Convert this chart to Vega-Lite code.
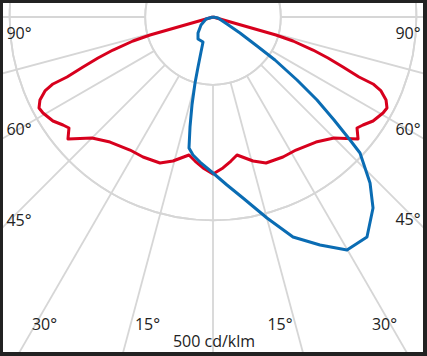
{
  "$schema": "https://vega.github.io/schema/vega-lite/v6.json",
  "width": 427,
  "height": 356,
  "autosize": {"type": "fit", "contains": "padding"},
  "padding": {"left": 3, "top": 3, "right": 4, "bottom": 4},
  "background": "#222222",
  "config": {"view": {"fill": "#ffffff", "stroke": null}},
  "datasets": {
    "rings": [{"x": 0, "y": 0, "r": 100}, {"x": 0, "y": 0, "r": 200}, {"x": 0, "y": 0, "r": 300}, {"x": 0, "y": 0, "r": 400}, {"x": 0, "y": 0, "r": 500}, {"x": 0, "y": 0, "r": 600}],
    "spokes": [
      {"x": -100, "y": 0, "x2": -800, "y2": 0},
      {"x": -96.59, "y": -25.88, "x2": -772.7, "y2": -207.1},
      {"x": -86.6, "y": -50, "x2": -692.8, "y2": -400},
      {"x": -70.71, "y": -70.71, "x2": -565.7, "y2": -565.7},
      {"x": -50, "y": -86.6, "x2": -400, "y2": -692.8},
      {"x": -25.88, "y": -96.59, "x2": -207.1, "y2": -772.7},
      {"x": 0, "y": -100, "x2": 0, "y2": -800},
      {"x": 25.88, "y": -96.59, "x2": 207.1, "y2": -772.7},
      {"x": 50, "y": -86.6, "x2": 400, "y2": -692.8},
      {"x": 70.71, "y": -70.71, "x2": 565.7, "y2": -565.7},
      {"x": 86.6, "y": -50, "x2": 692.8, "y2": -400},
      {"x": 96.59, "y": -25.88, "x2": 772.7, "y2": -207.1},
      {"x": 100, "y": 0, "x2": 800, "y2": 0}
    ],
    "red": [
      {"i": 0, "x": 0, "y": 0}, {"i": 1, "x": -92.9, "y": -26.5}, {"i": 2, "x": -118.0, "y": -35.4}, {"i": 3, "x": -147.5, "y": -48.7},
      {"i": 4, "x": -169.6, "y": -60.5}, {"i": 5, "x": -191.7, "y": -73.7}, {"i": 6, "x": -215.3, "y": -88.5}, {"i": 7, "x": -236.0, "y": -98.8},
      {"i": 8, "x": -247.8, "y": -109.1}, {"i": 9, "x": -255.2, "y": -122.4}, {"i": 10, "x": -256.6, "y": -134.2}, {"i": 11, "x": -250.7, "y": -141.6},
      {"i": 12, "x": -236.0, "y": -153.4}, {"i": 13, "x": -221.2, "y": -159.3}, {"i": 14, "x": -212.4, "y": -163.7}, {"i": 15, "x": -213.9, "y": -179.9},
      {"i": 16, "x": -178.5, "y": -178.5}, {"i": 17, "x": -151.9, "y": -184.4}, {"i": 18, "x": -122.4, "y": -196.2}, {"i": 19, "x": -103.2, "y": -206.5},
      {"i": 20, "x": -78.2, "y": -215.3}, {"i": 21, "x": -59.0, "y": -212.4}, {"i": 22, "x": -35.4, "y": -203.5}, {"i": 23, "x": -26.5, "y": -212.4},
      {"i": 24, "x": -14.7, "y": -222.7}, {"i": 25, "x": 0, "y": -231.6},
      {"i": 26, "x": 14.7, "y": -222.7}, {"i": 27, "x": 26.5, "y": -212.4}, {"i": 28, "x": 35.4, "y": -203.5}, {"i": 29, "x": 59.0, "y": -212.4},
      {"i": 30, "x": 78.2, "y": -215.3}, {"i": 31, "x": 103.2, "y": -206.5}, {"i": 32, "x": 122.4, "y": -196.2}, {"i": 33, "x": 151.9, "y": -184.4},
      {"i": 34, "x": 178.5, "y": -178.5}, {"i": 35, "x": 213.9, "y": -179.9}, {"i": 36, "x": 212.4, "y": -163.7}, {"i": 37, "x": 221.2, "y": -159.3},
      {"i": 38, "x": 236.0, "y": -153.4}, {"i": 39, "x": 250.7, "y": -141.6}, {"i": 40, "x": 256.6, "y": -134.2}, {"i": 41, "x": 255.2, "y": -122.4},
      {"i": 42, "x": 247.8, "y": -109.1}, {"i": 43, "x": 236.0, "y": -98.8}, {"i": 44, "x": 215.3, "y": -88.5}, {"i": 45, "x": 191.7, "y": -73.7},
      {"i": 46, "x": 169.6, "y": -60.5}, {"i": 47, "x": 147.5, "y": -48.7}, {"i": 48, "x": 118.0, "y": -35.4}, {"i": 49, "x": 92.9, "y": -26.5},
      {"i": 50, "x": 0, "y": 0}
    ],
    "blue": [
      {"i": 0, "x": 0, "y": 0}, {"i": 1, "x": -10.3, "y": -2.9}, {"i": 2, "x": -17.7, "y": -11.8}, {"i": 3, "x": -22.1, "y": -23.6},
      {"i": 4, "x": -22.1, "y": -32.4}, {"i": 5, "x": -14.7, "y": -36.9}, {"i": 6, "x": -17.7, "y": -51.6}, {"i": 7, "x": -22.1, "y": -73.7},
      {"i": 8, "x": -26.5, "y": -97.3}, {"i": 9, "x": -31.0, "y": -129.8}, {"i": 10, "x": -33.9, "y": -162.2}, {"i": 11, "x": -35.4, "y": -193.2},
      {"i": 12, "x": -29.5, "y": -203.5}, {"i": 13, "x": -19.2, "y": -213.9}, {"i": 14, "x": 0, "y": -230.1}, {"i": 15, "x": 20.6, "y": -247.8},
      {"i": 16, "x": 44.2, "y": -267.0}, {"i": 17, "x": 79.6, "y": -296.5}, {"i": 18, "x": 118.0, "y": -324.5}, {"i": 19, "x": 157.8, "y": -336.3},
      {"i": 20, "x": 197.6, "y": -343.7}, {"i": 21, "x": 227.1, "y": -324.5}, {"i": 22, "x": 236.0, "y": -281.7}, {"i": 23, "x": 231.6, "y": -244.8},
      {"i": 24, "x": 216.8, "y": -200.6}, {"i": 25, "x": 202.1, "y": -181.4}, {"i": 26, "x": 178.5, "y": -151.9}, {"i": 27, "x": 153.4, "y": -122.4},
      {"i": 28, "x": 123.9, "y": -92.9}, {"i": 29, "x": 91.4, "y": -63.4}, {"i": 30, "x": 64.9, "y": -42.8}, {"i": 31, "x": 39.8, "y": -23.6},
      {"i": 32, "x": 20.6, "y": -10.3}, {"i": 33, "x": 7.4, "y": -1.5}, {"i": 34, "x": 0, "y": 0}
    ],
    "labels": [
      {"x": -286.1, "y": -25.8, "t": "90°"},
      {"x": -286.1, "y": -167.4, "t": "60°"},
      {"x": -286.1, "y": -300.9, "t": "45°"},
      {"x": -248.5, "y": -454.3, "t": "30°"},
      {"x": -96.6, "y": -454.3, "t": "15°"},
      {"x": 1.5, "y": -479.4, "t": "500 cd/klm"},
      {"x": 98.8, "y": -454.3, "t": "15°"},
      {"x": 252.9, "y": -454.3, "t": "30°"},
      {"x": 287.6, "y": -299.4, "t": "45°"},
      {"x": 287.6, "y": -166.7, "t": "60°"},
      {"x": 287.6, "y": -25.8, "t": "90°"}
    ]
  },
  "encoding": {
    "x": {"field": "x", "type": "quantitative", "scale": {"domain": [-309.7, 309.7], "nice": false, "zero": false}, "axis": null},
    "y": {"field": "y", "type": "quantitative", "scale": {"domain": [-494.1, 20.65], "nice": false, "zero": false}, "axis": null}
  },
  "layer": [
    {
      "data": {"name": "rings"},
      "mark": {"type": "arc", "filled": false, "stroke": "#d6d6d6", "strokeWidth": 1.8, "theta": 0, "theta2": 6.2832, "clip": true},
      "encoding": {"radius": {"field": "r", "type": "quantitative", "scale": {"type": "linear", "domain": [0, 500], "range": [0, 339], "zero": true}, "legend": null}}
    },
    {
      "data": {"name": "spokes"},
      "mark": {"type": "rule", "stroke": "#d6d6d6", "strokeWidth": 1.8, "clip": true},
      "encoding": {"x2": {"field": "x2"}, "y2": {"field": "y2"}}
    },
    {
      "data": {"name": "red"},
      "mark": {"type": "line", "color": "#d7001d", "strokeWidth": 3, "strokeJoin": "round", "clip": true},
      "encoding": {"order": {"field": "i", "type": "quantitative"}}
    },
    {
      "data": {"name": "blue"},
      "mark": {"type": "line", "color": "#0a6cb3", "strokeWidth": 3, "strokeJoin": "round", "clip": true},
      "encoding": {"order": {"field": "i", "type": "quantitative"}}
    },
    {
      "data": {"name": "labels"},
      "mark": {"type": "text", "font": "Open Sans", "fontSize": 16, "color": "#222222", "align": "center", "baseline": "middle"},
      "encoding": {"text": {"field": "t", "type": "nominal"}}
    }
  ]
}
